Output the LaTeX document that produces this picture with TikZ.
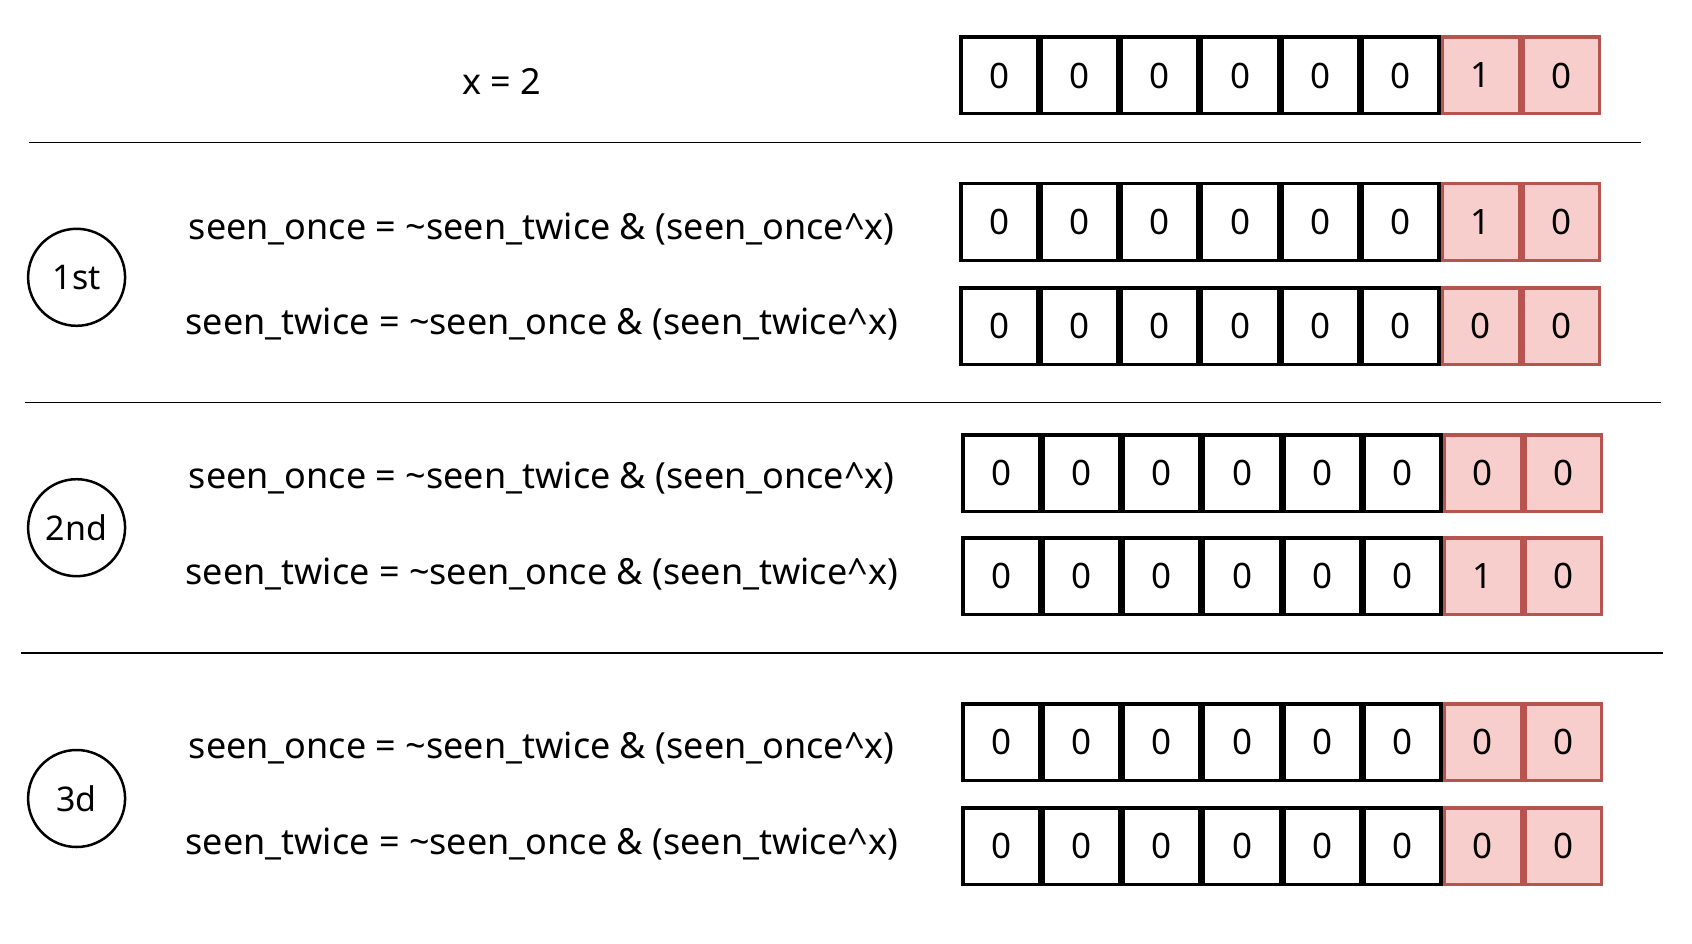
\documentclass[tikz,border=0pt]{standalone}
\usepackage{fontspec}
\setmainfont{Noto Sans}
\definecolor{hotred}{HTML}{B85450}
\definecolor{hotfill}{HTML}{F8CECC}
\begin{document}
\begin{tikzpicture}[x=1pt,y=-1pt,
  cell/.style={draw=black, line width=3.5pt, minimum width=76.8pt, minimum height=76.5pt, inner sep=0pt, font=\fontsize{35}{40}\selectfont},
  hot/.style={cell, draw=hotred, fill=hotfill},
  eq/.style={font=\fontsize{36}{42}\selectfont, inner sep=0pt},
  round/.style={circle, draw=black, line width=2.5pt, minimum size=97pt, inner sep=0pt, font=\fontsize{34}{40}\selectfont},
  sep/.style={draw=black, line width=1.5pt}]
\useasboundingbox (0,0) rectangle (1692,944);
\foreach \r/\y/\xl/\a in {0/75.5/959/1, 1/222/959/1, 2/326/959/0, 3/473/961/0, 4/576/961/1, 5/742/961/0, 6/846/961/0} {
  \foreach \c in {1,...,6} \node[cell] (r\r c\c) at ({\xl+80.3*(\c-0.5)}, \y) {0};
  \node[hot] (r\r c7) at ({\xl+80.3*6.5},\y) {\a};
  \node[hot] (r\r c8) at ({\xl+80.3*7.5},\y) {0};
}
\node[eq] (xval) at (501.8,81) {x = 2};
\node[eq] (e1a) at (541.7,228.8) {seen\_once = \textasciitilde seen\_twice \& (seen\_once\textasciicircum x)};
\node[eq] (e1b) at (541.7,323.7) {seen\_twice = \textasciitilde seen\_once \& (seen\_twice\textasciicircum x)};
\node[eq] (e2a) at (541.7,478) {seen\_once = \textasciitilde seen\_twice \& (seen\_once\textasciicircum x)};
\node[eq] (e2b) at (541.7,574) {seen\_twice = \textasciitilde seen\_once \& (seen\_twice\textasciicircum x)};
\node[eq] (e3a) at (541.7,747.8) {seen\_once = \textasciitilde seen\_twice \& (seen\_once\textasciicircum x)};
\node[eq] (e3b) at (541.7,843.9) {seen\_twice = \textasciitilde seen\_once \& (seen\_twice\textasciicircum x)};
\node[round] (s1) at (76.6,277.3) {1st};
\node[round] (s2) at (76.6,527.7) {2nd};
\node[round] (s3) at (76.6,798.5) {3d};
\coordinate (l1a) at (29,142.4); \coordinate (l1b) at (1641,142.4);
\coordinate (l2a) at (25,402.5); \coordinate (l2b) at (1661,402.5);
\coordinate (l3a) at (20.5,652.8); \coordinate (l3b) at (1663,652.8);
\draw[sep] (l1a) -- (l1b);
\draw[sep] (l2a) -- (l2b);
\draw[sep] (l3a) -- (l3b);
\end{tikzpicture}
\end{document}
